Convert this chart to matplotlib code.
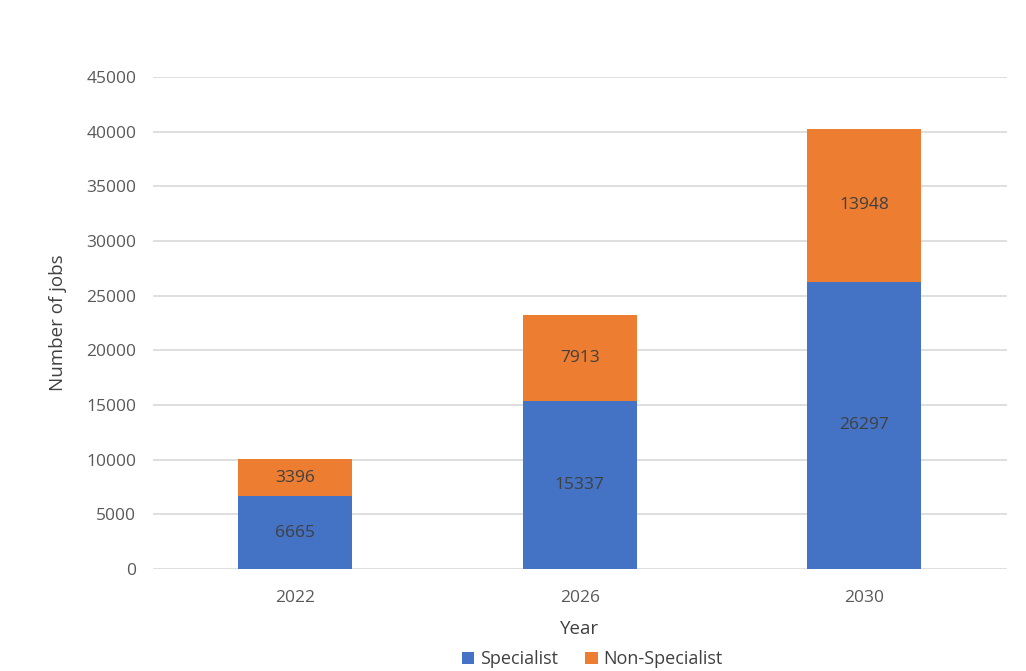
import matplotlib.pyplot as plt
import numpy as np

years = ["2022", "2026", "2030"]
specialist = [6665, 15337, 26297]
non_specialist = [3396, 7913, 13948]

plt.rcParams['font.family'] = ['Open Sans', 'DejaVu Sans']

fig = plt.figure(figsize=(10.26, 6.71), dpi=100)
ax = fig.add_axes([0.149, 0.152, 0.832, 0.733])

x = np.arange(len(years))
w = 0.4
b1 = ax.bar(x, specialist, w, color='#4472C4', label='Specialist', zorder=3)
b2 = ax.bar(x, non_specialist, w, bottom=specialist, color='#ED7D31',
            label='Non-Specialist', zorder=3)

for s, n, xi in zip(specialist, non_specialist, x):
    ax.text(xi, s / 2, str(s), ha='center', va='center', fontsize=12.5, color='#404040', zorder=4)
    ax.text(xi, s + n / 2, str(n), ha='center', va='center', fontsize=12.5, color='#404040', zorder=4)

ax.set_xlim(-0.5, 2.5)
ax.set_ylim(0, 45000)
ax.set_yticks(np.arange(0, 45001, 5000))
ax.set_xticks(x)
ax.set_xticklabels(years)
ax.tick_params(axis='both', length=0, labelsize=12.5, labelcolor='#595959')
ax.tick_params(axis='y', pad=12)
ax.tick_params(axis='x', pad=15)
ax.grid(axis='y', color='#d9d9d9', linewidth=1.2, zorder=0)
for sp in ax.spines.values():
    sp.set_visible(False)

ax.set_ylabel('Number of jobs', fontsize=13.5, color='#404040', labelpad=14)
ax.set_xlabel('Year', fontsize=13.5, color='#404040', labelpad=10)

fig.legend(handles=[b1, b2], loc='lower center', bbox_to_anchor=(0.577, -0.02), ncol=2,
           frameon=False, fontsize=13, handlelength=0.7, handleheight=0.7,
           handletextpad=0.3, columnspacing=1.5, labelcolor='#404040')

fig.savefig('out.png', dpi=100)
